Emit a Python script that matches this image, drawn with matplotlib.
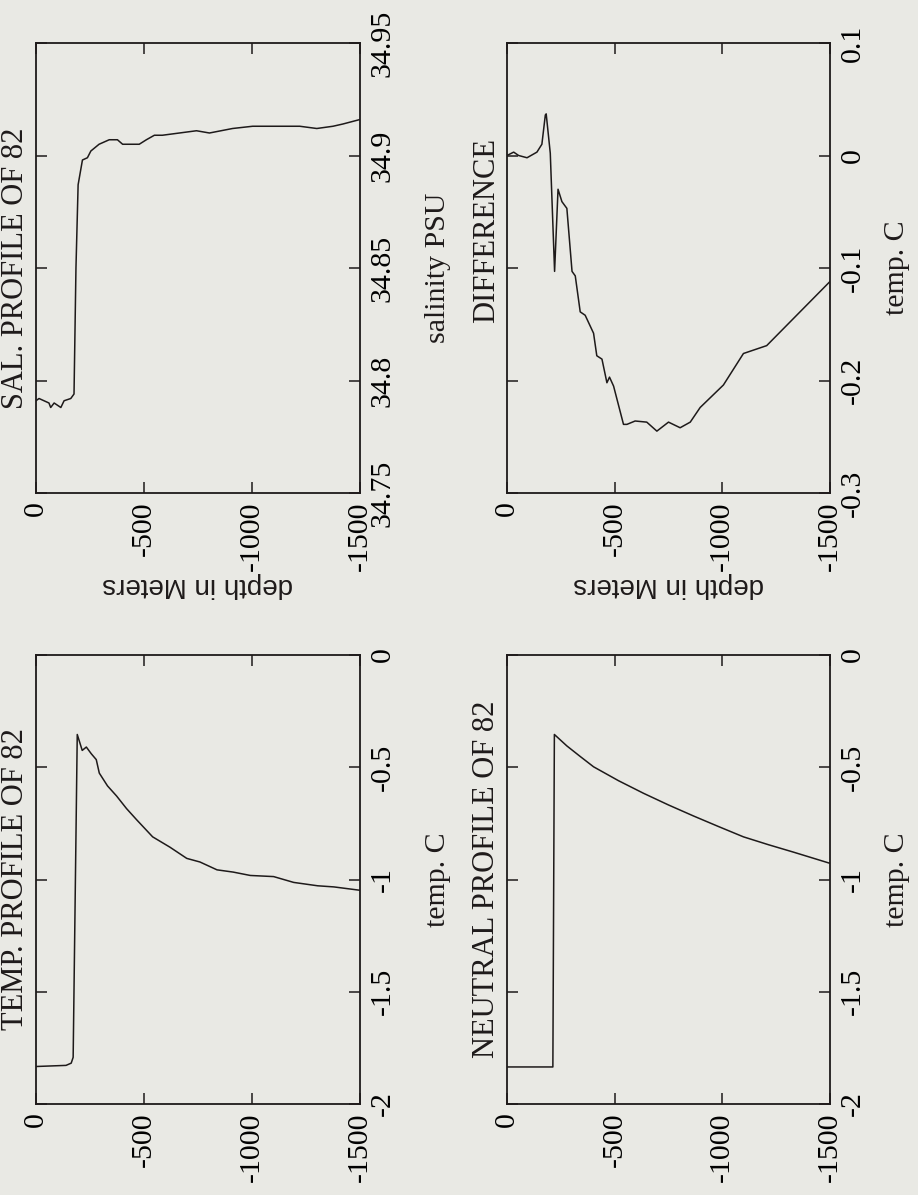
import matplotlib
matplotlib.use("Agg")
import matplotlib.pyplot as plt

# page is printed sideways: depth runs left->right, values go up the right side
plt.rcParams['font.family'] = ['Liberation Serif', 'DejaVu Serif']
plt.rcParams['axes.unicode_minus'] = False

bg = '#e9e9e4'
ink = '#1e1a1a'

depth_ticks = [0, -500, -1000, -1500]
depth_labels = ['0', '-500', '-1000', '-1500']

sal_ticks = [34.75, 34.8, 34.85, 34.9, 34.95]
sal_labels = ['34.75', '34.8', '34.85', '34.9', '34.95']
temp_ticks = [-2, -1.5, -1, -0.5, 0]
temp_labels = ['-2', '-1.5', '-1', '-0.5', '0']
diff_ticks = [-0.3, -0.2, -0.1, 0, 0.1]
diff_labels = ['-0.3', '-0.2', '-0.1', '0', '0.1']

sal_depth = [0, -14, -60, -68, -84, -115, -130, -161, -176, -185, -195, -215, -238, -254,
             -292, -339, -377, -401, -478, -511, -548, -585, -664, -743, -803, -910, -1003,
             -1221, -1300, -1375, -1421, -1500]
sal_val = [34.791, 34.792, 34.790, 34.788, 34.790, 34.788, 34.791, 34.792, 34.794, 34.850,
           34.887, 34.898, 34.899, 34.902, 34.905, 34.907, 34.907, 34.905, 34.905, 34.907,
           34.909, 34.909, 34.910, 34.911, 34.910, 34.912, 34.913, 34.913, 34.912, 34.913,
           34.914, 34.916]

temp_depth = [0, -139, -163, -172, -191, -214, -233, -256, -279, -293, -331, -373, -419,
              -466, -540, -620, -698, -759, -838, -913, -992, -1100, -1193, -1304, -1379, -1500]
temp_val = [-1.833, -1.828, -1.818, -1.792, -0.354, -0.425, -0.41, -0.44, -0.466, -0.526,
            -0.583, -0.628, -0.684, -0.734, -0.810, -0.856, -0.906, -0.922, -0.957, -0.967,
            -0.982, -0.987, -1.013, -1.028, -1.033, -1.048]

neut_depth = [0, -213, -220, -278, -340, -402, -518, -634, -750, -866, -982, -1098, -1214,
              -1330, -1500]
neut_val = [-1.835, -1.835, -0.354, -0.405, -0.452, -0.498, -0.560, -0.616, -0.668, -0.717,
            -0.764, -0.810, -0.845, -0.878, -0.928]

diff_depth = [0, -31, -54, -93, -139, -162, -178, -182, -201, -221, -237, -255, -278, -302,
              -317, -340, -363, -402, -417, -441, -464, -476, -495, -541, -557, -595, -649,
              -696, -750, -804, -851, -897, -1005, -1098, -1206, -1500]
diff_val = [0.0, 0.003, 0.0, -0.002, 0.003, 0.010, 0.036, 0.037, 0.002, -0.103, -0.030,
            -0.041, -0.047, -0.103, -0.107, -0.139, -0.142, -0.158, -0.178, -0.181, -0.202,
            -0.197, -0.205, -0.239, -0.239, -0.236, -0.237, -0.245, -0.237, -0.242, -0.237,
            -0.224, -0.204, -0.176, -0.169, -0.112]

fig = plt.figure(figsize=(9.18, 11.95), dpi=100, facecolor=bg)

W, H = 918.0, 1195.0
def box(x0, x1, y0, y1):
    return [x0 / W, 1 - y1 / H, (x1 - x0) / W, (y1 - y0) / H]

panels = [
    (box(36, 360, 43, 493), sal_depth, sal_val, sal_ticks, sal_labels,
     'SAL. PROFILE OF 82', 0.5, 'salinity PSU', 1.2, True),
    (box(507, 830, 43, 493), diff_depth, diff_val, diff_ticks, diff_labels,
     'DIFFERENCE', 0.584, 'temp. C', 1.167, True),
    (box(36, 360, 655, 1104), temp_depth, temp_val, temp_ticks, temp_labels,
     'TEMP. PROFILE OF 82', 0.5, 'temp. C', 1.2, False),
    (box(507, 830, 655, 1104), neut_depth, neut_val, temp_ticks, temp_labels,
     'NEUTRAL PROFILE OF 82', 0.5, 'temp. C', 1.167, False),
]

for rect, xd, yd, yt, yl, title, tpos, vlabel, vx, show_depth in panels:
    ax = fig.add_axes(rect)
    ax.set_facecolor(bg)
    ax.plot(xd, yd, color=ink, lw=1.1)
    ax.set_xlim(0, -1500)
    ax.set_ylim(yt[0], yt[-1])
    ax.set_xticks(depth_ticks)
    ax.set_xticklabels(depth_labels, rotation=90, fontsize=21.5)
    ax.set_yticks(yt)
    ax.set_yticklabels(yl, rotation=90, va='center', fontsize=21.5)
    ax.tick_params(axis='both', direction='in', length=8, width=1.1, color=ink,
                   top=True, bottom=True, left=True, right=True,
                   labelleft=False, labelright=True)
    ax.tick_params(axis='x', pad=6)
    ax.tick_params(axis='y', pad=7)
    for s in ax.spines.values():
        s.set_linewidth(1.3)
        s.set_color(ink)
    ax.text(-0.018, tpos, title, rotation=90, ha='right', va='center',
            fontsize=22, color=ink, transform=ax.transAxes)
    ax.text(vx, 0.5, vlabel, rotation=90, ha='left', va='center',
            fontsize=21.5, color=ink, transform=ax.transAxes)
    if show_depth:
        ax.text(0.5, -0.176, 'depth in Meters', rotation=180, ha='center', va='top',
                fontsize=20, color=ink, family='Liberation Sans', transform=ax.transAxes)

fig.savefig('out.png', dpi=100, facecolor=bg)
